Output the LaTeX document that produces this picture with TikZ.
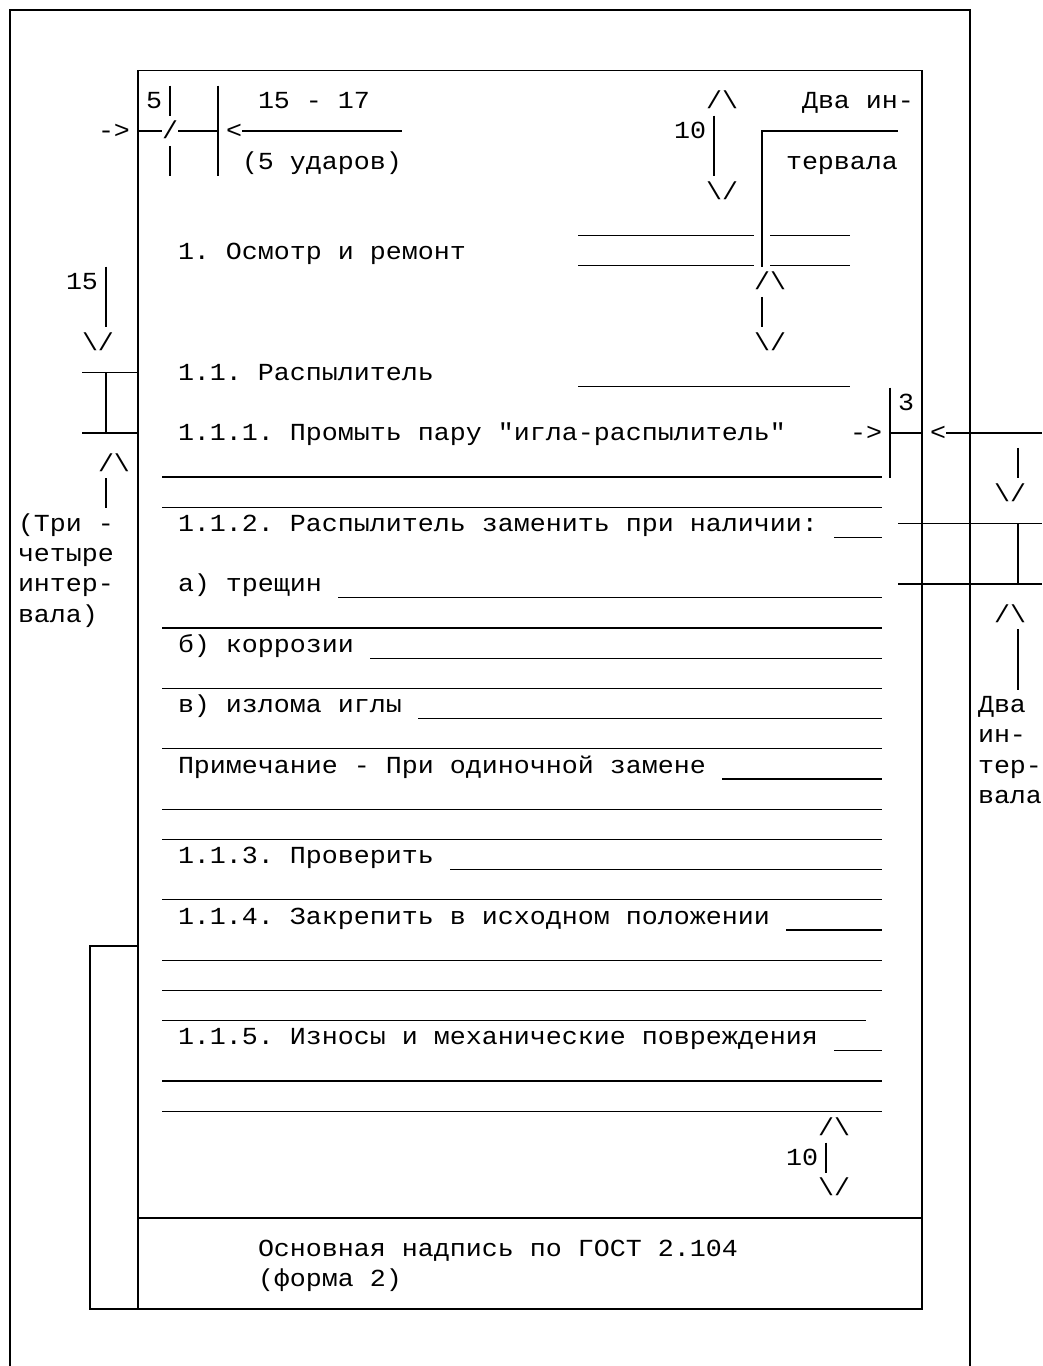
\documentclass[tikz,border=0pt]{standalone}
\usepackage{fontspec}
\newfontfamily\mono{Liberation Mono}[FakeStretch=1.088]
\frenchspacing
\def\C#1{10+16*#1}
\def\Lc#1{2+16*#1}
\def\R#1{10+30.2*#1}
\newcommand\tx[4]{\node[txt] (#1) at ({\Lc{#2}},{\R{#3}+8}) {#4};}
\newcommand\us[3]{\draw[ul] ({\Lc{#2}},{\R{#1}+14}) -- ({\Lc{#3}+16},{\R{#1}+14});}
\begin{document}
\begin{tikzpicture}[x=1pt,y=-1pt,
  txt/.style={anchor=base west,inner sep=0pt,outer sep=0pt,font=\mono\fontsize{24.5}{29}\selectfont},
  box/.style={line width=1.8pt},
  ul/.style={line width=1.3pt}]
\fill[white] (0,0) rectangle (1042,1366);
\useasboundingbox (0,0) rectangle (1042,1366);
% outer frame
\draw[box] ({\C{0}},1366) -- ({\C{0}},{\R{0}}) -- ({\C{60}},{\R{0}}) -- ({\C{60}},1366);
% inner frame
\draw[box] ({\C{8}},{\R{2}}) rectangle ({\C{57}},{\R{43}});
\draw[box] ({\C{8}},{\R{40}}) -- ({\C{57}},{\R{40}});
\draw[box] ({\C{8}},{\R{31}}) -- ({\C{5}},{\R{31}}) -- ({\C{5}},{\R{43}}) -- ({\C{8}},{\R{43}});
% top-left dimension
\draw[box] ({\C{8}},{\R{4}}) -- ({\Lc{10}},{\R{4}});
\draw[box] ({\Lc{11}},{\R{4}}) -- ({\C{13}},{\R{4}});
\draw[box] ({\Lc{15}},{\R{4}}) -- ({\Lc{25}},{\R{4}});
\draw[box] ({\C{10}},{\R{3}-15.1}) -- ({\C{10}},{\R{3}+15.1});
\draw[box] ({\C{10}},{\R{5}-15.1}) -- ({\C{10}},{\R{5}+15.1});
\draw[box] ({\C{13}},{\R{3}-15.1}) -- ({\C{13}},{\R{5}+15.1});
% top-right dimension
\draw[box] ({\C{44}},{\R{4}-15.1}) -- ({\C{44}},{\R{5}+15.1});
\draw[box] ({\C{47}},{\R{8}+15.1}) -- ({\C{47}},{\R{4}}) -- ({\Lc{56}},{\R{4}});
\draw[box] ({\C{47}},{\R{10}-15.1}) -- ({\C{47}},{\R{10}+15.1});
% left dimension 15
\draw[box] ({\C{6}},{\R{9}-15.1}) -- ({\C{6}},{\R{10}+15.1});
\draw[box] ({\Lc{5}},{\R{12}}) -- ({\C{8}},{\R{12}});
\draw[box] ({\Lc{5}},{\R{14}}) -- ({\C{8}},{\R{14}});
\draw[box] ({\C{6}},{\R{12}}) -- ({\C{6}},{\R{14}});
\draw[box] ({\C{6}},{\R{16}-15.1}) -- ({\C{6}},{\R{16}+15.1});
% right dimension 3
\draw[box] ({\C{55}},{\R{13}-15.1}) -- ({\C{55}},{\R{15}+15.1});
\draw[box] ({\C{55}},{\R{14}}) -- ({\C{57}},{\R{14}});
\draw[box] ({\Lc{59}},{\R{14}}) -- (1042,{\R{14}});
\draw[box] ({\C{63}},{\R{15}-15.1}) -- ({\C{63}},{\R{15}+15.1});
\draw[box] ({\Lc{56}},{\R{17}}) -- (1042,{\R{17}});
\draw[box] ({\Lc{56}},{\R{19}}) -- (1042,{\R{19}});
\draw[box] ({\C{63}},{\R{17}}) -- ({\C{63}},{\R{19}});
\draw[box] ({\C{63}},{\R{21}-15.1}) -- ({\C{63}},{\R{22}+15.1});
% bottom dimension 10
\draw[box] ({\C{51}},{\R{38}-15.1}) -- ({\C{51}},{\R{38}+15.1});
% underscores
\us{7}{36}{46} \us{7}{48}{52}
\us{8}{36}{46} \us{8}{48}{52}
\us{12}{36}{52}
\us{15}{10}{54} \us{16}{10}{54}
\us{17}{52}{54}
\us{19}{21}{54} \us{20}{10}{54}
\us{21}{23}{54} \us{22}{10}{54}
\us{23}{26}{54} \us{24}{10}{54}
\us{25}{45}{54} \us{26}{10}{54} \us{27}{10}{54}
\us{28}{28}{54} \us{29}{10}{54}
\us{30}{49}{54} \us{31}{10}{54} \us{32}{10}{54} \us{33}{10}{53}
\us{34}{52}{54} \us{35}{10}{54} \us{36}{10}{54}
% texts
\tx{a1}{9}{3}{5}
\tx{a2}{16}{3}{15 - 17}
\tx{a3}{44}{3}{/\textbackslash}
\tx{a4}{50}{3}{Два ин-}
\tx{a5}{6}{4}{->}
\tx{a6}{10}{4}{/}
\tx{a7}{14}{4}{<}
\tx{a8}{42}{4}{10}
\tx{a9}{15}{5}{(5 ударов)}
\tx{a10}{49}{5}{тервала}
\tx{a11}{44}{6}{\textbackslash/}
\tx{b1}{11}{8}{1. Осмотр и ремонт}
\tx{b2}{4}{9}{15}
\tx{b3}{47}{9}{/\textbackslash}
\tx{b4}{5}{11}{\textbackslash/}
\tx{b5}{47}{11}{\textbackslash/}
\tx{b6}{11}{12}{1.1. Распылитель}
\tx{b7}{56}{13}{3}
\tx{b8}{11}{14}{1.1.1. Промыть пару "игла-распылитель"}
\tx{b9}{53}{14}{->}
\tx{b10}{58}{14}{<}
\tx{b11}{6}{15}{/\textbackslash}
\tx{b12}{62}{16}{\textbackslash/}
\tx{c1}{1}{17}{(Три -}
\tx{c2}{11}{17}{1.1.2. Распылитель заменить при наличии:}
\tx{c3}{1}{18}{четыре}
\tx{c4}{1}{19}{интер-}
\tx{c5}{11}{19}{а) трещин}
\tx{c6}{1}{20}{вала)}
\tx{c7}{62}{20}{/\textbackslash}
\tx{c8}{11}{21}{б) коррозии}
\tx{c9}{11}{23}{в) излома иглы}
\tx{c10}{61}{23}{Два}
\tx{c11}{61}{24}{ин-}
\tx{c12}{11}{25}{Примечание - При одиночной замене}
\tx{c13}{61}{25}{тер-}
\tx{c14}{61}{26}{вала}
\tx{d1}{11}{28}{1.1.3. Проверить}
\tx{d2}{11}{30}{1.1.4. Закрепить в исходном положении}
\tx{d3}{11}{34}{1.1.5. Износы и механические повреждения}
\tx{d4}{51}{37}{/\textbackslash}
\tx{d5}{49}{38}{10}
\tx{d6}{51}{39}{\textbackslash/}
\tx{e1}{16}{41}{Основная надпись по ГОСТ 2.104}
\tx{e2}{16}{42}{(форма 2)}
\end{tikzpicture}
\end{document}
